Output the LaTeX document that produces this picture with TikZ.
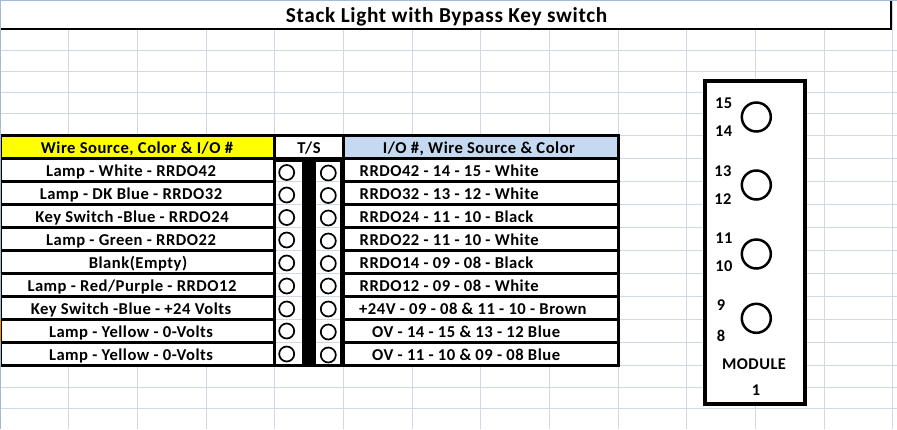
\documentclass[tikz,border=0pt]{standalone}
\usepackage{fontspec}
\setmainfont{Carlito}[LetterSpace=3]
\usetikzlibrary{positioning}
\definecolor{gridline}{HTML}{D0D7E5}
\definecolor{sheetedge}{HTML}{A3BBD9}
\definecolor{headyellow}{HTML}{FFFF00}
\definecolor{headblue}{HTML}{C5D9F1}
\definecolor{cornermark}{HTML}{F08A1D}
\tikzset{
    sheet/.style={gridline,line width=0.9pt},
    thick line/.style={black,line width=2.8pt},
    wiretext/.style={font=\bfseries\fontsize{16.6}{18}\selectfont,inner sep=0pt,anchor=base},
    wiretextl/.style={wiretext,anchor=base west},
    titletext/.style={font=\bfseries\fontsize{21.3}{24}\selectfont,inner sep=0pt,anchor=base},
    modtext/.style={font=\bfseries\fontsize{16.4}{18}\selectfont,inner sep=0pt,anchor=base},
    termhole/.style={circle,draw=black,line width=1.7pt,fill=white,minimum size=15pt,inner sep=0pt},
    modhole/.style={circle,draw=black,line width=2.5pt,fill=white,minimum size=29pt,inner sep=0pt}
}

\begin{document}
\begin{tikzpicture}[x=1pt,y=-1pt]
    \useasboundingbox (0,0) rectangle (897,429);
    \fill [white] (0,0) rectangle (897,429);

    %sheet lines
    \draw [sheet] (68.7,30)--(68.7,429);
    \draw [sheet] (137.4,30)--(137.4,429);
    \draw [sheet] (206,30)--(206,429);
    \draw [sheet] (274.7,30)--(274.7,429);
    \draw [sheet] (343.4,30)--(343.4,429);
    \draw [sheet] (412,30)--(412,429);
    \draw [sheet] (480.8,30)--(480.8,429);
    \draw [sheet] (549.5,30)--(549.5,429);
    \draw [sheet] (618.2,30)--(618.2,429);
    \draw [sheet] (686.9,30)--(686.9,429);
    \draw [sheet] (755.6,30)--(755.6,429);
    \draw [sheet] (824.3,30)--(824.3,429);
    \draw [sheet] (892.3,0)--(892.3,429);
    \draw [sheet] (1,50.5)--(897,50.5);
    \draw [sheet] (1,71.5)--(897,71.5);
    \draw [sheet] (1,92.5)--(897,92.5);
    \draw [sheet] (1,113.5)--(897,113.5);
    \draw [sheet] (618,135)--(897,135);
    \draw [sheet] (618,158)--(897,158);
    \draw [sheet] (618,181)--(897,181);
    \draw [sheet] (618,204)--(897,204);
    \draw [sheet] (618,227)--(897,227);
    \draw [sheet] (618,250)--(897,250);
    \draw [sheet] (618,273)--(897,273);
    \draw [sheet] (618,296)--(897,296);
    \draw [sheet] (618,319)--(897,319);
    \draw [sheet] (618,342)--(897,342);
    \draw [sheet] (618,365)--(897,365);
    \draw [sheet] (1,387.5)--(897,387.5);
    \draw [sheet] (1,408.5)--(897,408.5);

    %sheet edge
    \fill [sheetedge] (0,0) rectangle (897,1);
    \fill [sheetedge] (0,0) rectangle (1,429);
    \fill [cornermark] (0,320) rectangle (1,342);

    %title
    \fill [white] (1,1) rectangle (890.5,28);
    \draw [black,line width=2pt] (1,29)--(891.3,29)--(891.3,1);
    \node [titletext] (title) at(446.5,22) {Stack Light with Bypass Key switch};

    %table
    \fill [white] (1,135) rectangle (618,366);
    \fill [headyellow] (1,137) rectangle (273,157.5);
    \fill [headblue] (344,137) rectangle (617,157.5);
    \fill [black] (302,160) rectangle (315.5,365);
    \fill [black] (339.5,160) rectangle (344.7,365);
    \fill [black] (272.7,135) rectangle (276,365);
    \fill [black] (342.2,135) rectangle (344.7,160);
    \fill [black] (274,157) rectangle (344,161.5);

    %row lines
    \draw [sheet] (276,181.7)--(302,181.7);
    \draw [sheet] (315.5,181.7)--(339.5,181.7);
    \draw [sheet] (276,204.7)--(302,204.7);
    \draw [sheet] (315.5,204.7)--(339.5,204.7);
    \draw [sheet] (276,227.7)--(302,227.7);
    \draw [sheet] (315.5,227.7)--(339.5,227.7);
    \draw [sheet] (276,250.7)--(302,250.7);
    \draw [sheet] (315.5,250.7)--(339.5,250.7);
    \draw [sheet] (276,273.7)--(302,273.7);
    \draw [sheet] (315.5,273.7)--(339.5,273.7);
    \draw [sheet] (276,296.7)--(302,296.7);
    \draw [sheet] (315.5,296.7)--(339.5,296.7);
    \draw [sheet] (276,319.7)--(302,319.7);
    \draw [sheet] (315.5,319.7)--(339.5,319.7);
    \draw [sheet] (276,342.7)--(302,342.7);
    \draw [sheet] (315.5,342.7)--(339.5,342.7);
    \draw [thick line] (0.5,135.7)--(619.7,135.7);
    \draw [thick line] (0.5,158.7)--(274,158.7);
    \draw [thick line] (344,158.7)--(618,158.7);
    \draw [thick line] (0.5,181.7)--(274,181.7);
    \draw [thick line] (344,181.7)--(618,181.7);
    \draw [thick line] (0.5,204.7)--(274,204.7);
    \draw [thick line] (344,204.7)--(618,204.7);
    \draw [thick line] (0.5,227.7)--(274,227.7);
    \draw [thick line] (344,227.7)--(618,227.7);
    \draw [thick line] (0.5,250.7)--(274,250.7);
    \draw [thick line] (344,250.7)--(618,250.7);
    \draw [thick line] (0.5,273.7)--(274,273.7);
    \draw [thick line] (344,273.7)--(618,273.7);
    \draw [thick line] (0.5,296.7)--(274,296.7);
    \draw [thick line] (344,296.7)--(618,296.7);
    \draw [thick line] (0.5,319.7)--(274,319.7);
    \draw [thick line] (344,319.7)--(618,319.7);
    \draw [thick line] (0.5,342.7)--(274,342.7);
    \draw [thick line] (344,342.7)--(618,342.7);
    \draw [thick line] (0.5,365.7)--(619.7,365.7);
    \draw [thick line] (618.3,135)--(618.3,367);
    \draw [black,line width=1.2pt] (1.2,135)--(1.2,367);

    %left column
    \node [wiretext] (srchead) at(137,153.5) {Wire Source, Color \& I/O \#};
    \node [wiretext] (src1) at(131,176.5) {Lamp - White - RRDO42};
    \node [wiretext] (src2) at(131,199.5) {Lamp - DK Blue - RRDO32};
    \node [wiretext] (src3) at(132,222.5) {Key Switch -Blue - RRDO24};
    \node [wiretext] (src4) at(131,245.5) {Lamp - Green - RRDO22};
    \node [wiretext] (src5) at(138,268.5) {Blank(Empty)};
    \node [wiretext] (src6) at(132,291.5) {Lamp - Red/Purple - RRDO12};
    \node [wiretext] (src7) at(131,314.5) {Key Switch -Blue - +24 Volts};
    \node [wiretext] (src8) at(131,337.5) {Lamp - Yellow - 0-Volts};
    \node [wiretext] (src9) at(131,360.5) {Lamp - Yellow - 0-Volts};

    %T/S
    \node [wiretext] (tshead) at(309,153.5) {T/S};
    \node [termhole] (ta1) at(286.7,172.5) {};
    \node [termhole] (ta2) at(286.7,195) {};
    \node [termhole] (ta3) at(286.7,217.5) {};
    \node [termhole] (ta4) at(286.7,240) {};
    \node [termhole] (ta5) at(286.7,263) {};
    \node [termhole] (ta6) at(286.7,286) {};
    \node [termhole] (ta7) at(286.7,309) {};
    \node [termhole] (ta8) at(286.7,331) {};
    \node [termhole] (ta9) at(286.7,354) {};
    \node [termhole] (tb1) at(328.3,173) {};
    \node [termhole] (tb2) at(328.3,195.5) {};
    \node [termhole] (tb3) at(328.3,218) {};
    \node [termhole] (tb4) at(328.3,241) {};
    \node [termhole] (tb5) at(328.3,263.5) {};
    \node [termhole] (tb6) at(328.3,286) {};
    \node [termhole] (tb7) at(328.3,309) {};
    \node [termhole] (tb8) at(328.3,332) {};
    \node [termhole] (tb9) at(328.3,355) {};

    %right column
    \node [wiretext] (dsthead) at(479,153.5) {I/O \#, Wire Source \& Color};
    \node [wiretextl] (dst1) at(359.5,176.5) {RRDO42 - 14 - 15 - White};
    \node [wiretextl] (dst2) at(359.5,199.5) {RRDO32 - 13 - 12 - White};
    \node [wiretextl] (dst3) at(359.5,222.5) {RRDO24 - 11 - 10 - Black};
    \node [wiretextl] (dst4) at(359.5,245.5) {RRDO22 - 11 - 10 - White};
    \node [wiretextl] (dst5) at(359.5,268.5) {RRDO14 - 09 - 08 - Black};
    \node [wiretextl] (dst6) at(359.5,291.5) {RRDO12 - 09 - 08 - White};
    \node [wiretextl] (dst7) at(359,314.5) {+24V - 09 - 08 \& 11 - 10 - Brown};
    \node [wiretextl] (dst8) at(372,337.5) {OV - 14 - 15 \& 13 - 12 Blue};
    \node [wiretextl] (dst9) at(372,360.5) {OV - 11 - 10 \& 09 - 08 Blue};

    %module
    \node [draw=black,line width=3.3pt,fill=white,minimum width=100pt,minimum height=323pt,inner sep=0pt] (module) at(755,242.5) {};
    \node [modhole] (hole1) at(756.3,117) {};
    \node [modhole] (hole2) at(756.3,185) {};
    \node [modhole] (hole3) at(756.3,254) {};
    \node [modhole] (hole4) at(756.3,318.3) {};
    \node [modtext] (n15) at(723.7,108) {15};
    \node [modtext] (n14) at(723.7,136) {14};
    \node [modtext] (n13) at(723,176) {13};
    \node [modtext] (n12) at(723,204) {12};
    \node [modtext] (n11) at(724,243) {11};
    \node [modtext] (n10) at(724,271) {10};
    \node [modtext] (n9) at(721,310) {9};
    \node [modtext] (n8) at(721,341) {8};
    \node [modtext] (modname) at(754,369.5) {MODULE};
    \node [modtext] (modnum) at(756,395) {1};
\end{tikzpicture}
\end{document}
